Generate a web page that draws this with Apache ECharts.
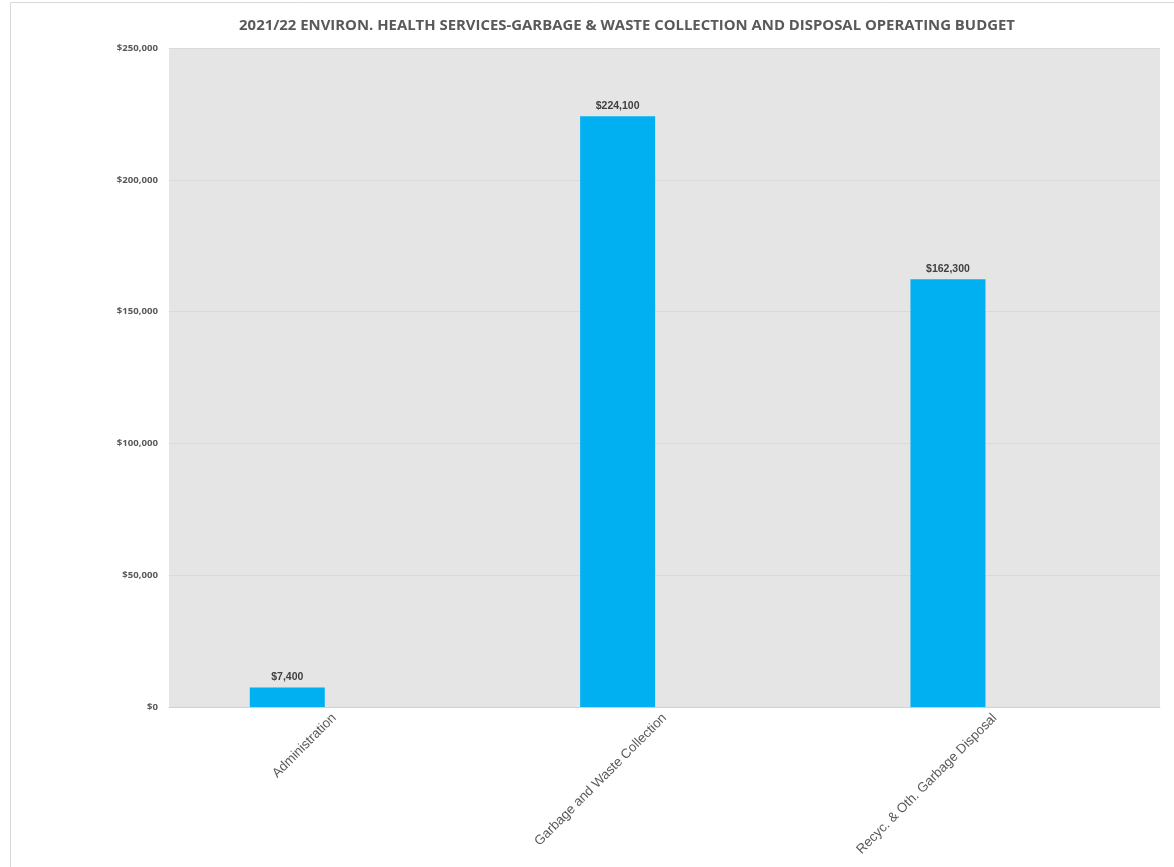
<!DOCTYPE html>
<html>
<head>
<meta charset="utf-8">
<style>
  html, body { margin: 0; padding: 0; background: #ffffff; }
  #chart { width: 1174px; height: 867px; }
</style>
<script src="https://cdn.jsdelivr.net/npm/echarts@6/dist/echarts.min.js"></script>
</head>
<body>
<div id="chart"></div>
<script>
// Operating budget by program (dollars)
const categories = ['Administration', 'Garbage and Waste Collection', 'Recyc. & Oth. Garbage Disposal'];
const budget2122 = [7400, 224100, 162300];
// second cluster slot carries no values
const emptySlot = [null, null, null];
const yTicks = { min: 0, max: 250000, interval: 50000 };

const money = v => '$' + Math.round(v).toLocaleString('en-US');

const chart = echarts.init(document.getElementById('chart'), null, { renderer: 'canvas' });
chart.setOption({
  backgroundColor: '#ffffff',
  animation: false,
  title: {
    text: '2021/22 ENVIRON. HEALTH SERVICES-GARBAGE & WASTE COLLECTION AND DISPOSAL OPERATING BUDGET',
    left: 622, top: 13, textAlign: 'center',
    textStyle: { fontFamily: 'Open Sans', fontWeight: 'bold', fontSize: 14.9, color: '#595959' }
  },
  graphic: [{
    type: 'rect', silent: true, z: -1,
    shape: { x: 10.5, y: 2.5, width: 1200, height: 900 },
    style: { fill: 'none', stroke: '#d9d9d9', lineWidth: 1 }
  }],
  grid: {
    left: 169, right: 14, top: 48, bottom: 160,
    show: true, backgroundColor: '#e5e5e5', borderWidth: 0
  },
  xAxis: {
    type: 'category',
    data: categories,
    axisTick: { show: false },
    axisLine: { show: true, lineStyle: { color: '#d0d0d0', width: 1 } },
    axisLabel: {
      rotate: 45, margin: 9,
      fontFamily: 'Liberation Sans', fontSize: 13.3, color: '#595959'
    }
  },
  yAxis: {
    type: 'value',
    min: yTicks.min, max: yTicks.max, interval: yTicks.interval,
    axisLine: { show: false },
    axisTick: { show: false },
    splitLine: { lineStyle: { color: '#d9d9d9', width: 1 } },
    axisLabel: {
      margin: 11,
      formatter: money,
      fontFamily: 'Open Sans', fontWeight: 'bold', fontSize: 9.6, color: '#595959'
    }
  },
  series: [{
    name: '2021/22',
    type: 'bar',
    data: budget2122,
    barWidth: 75,
    barGap: '25%',
    itemStyle: { color: '#00b0f0' },
    label: {
      show: true, position: 'top', distance: 5,
      formatter: p => money(p.value),
      fontFamily: 'Liberation Sans', fontWeight: 'bold', fontSize: 10.5, color: '#404040'
    }
  }, {
    name: 'blank',
    type: 'bar',
    data: emptySlot,
    barWidth: 75,
    itemStyle: { color: '#00b0f0' }
  }]
});
</script>
</body>
</html>
